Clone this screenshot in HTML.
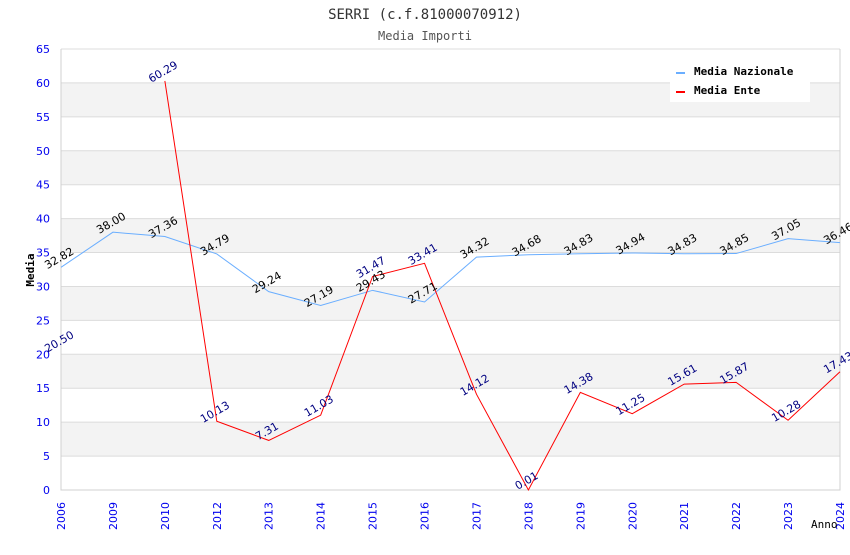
<!DOCTYPE html>
<html><head><meta charset="utf-8"><style>
body{margin:0;background:#fff;}
svg text{font-family:"DejaVu Sans","Liberation Sans",sans-serif;}
.mono{font-family:"DejaVu Sans Mono","Liberation Mono",monospace !important;}
</style></head><body>
<svg id="chart" width="850" height="550" xmlns="http://www.w3.org/2000/svg">
<text class="mono" x="425" y="19" text-anchor="middle" font-size="14" fill="#333">SERRI (c.f.81000070912)</text>
<text class="mono" x="425" y="40" text-anchor="middle" font-size="12" fill="#555">Media Importi</text>
<g id="bands"></g><g id="grid"></g><g id="axes"></g><g id="series"></g><g id="labels"></g>
<text class="mono" transform="translate(34,270) rotate(-90)" text-anchor="middle" font-size="11" font-weight="bold" fill="#000">Media</text>
<text class="mono" x="811" y="528" font-size="11" fill="#000">Anno</text>
<g>
<rect x="670" y="60" width="140" height="42" fill="#fff"/>
<rect x="676" y="72" width="9" height="2" fill="#6aaeff"/>
<text class="mono" x="694" y="75" font-size="11" font-weight="bold" fill="#000">Media Nazionale</text>
<rect x="676" y="91" width="9" height="2" fill="#ff0000"/>
<text class="mono" x="694" y="94" font-size="11" font-weight="bold" fill="#000">Media Ente</text>
</g>
</svg>
<script>
const categories=["2006","2009","2010","2012","2013","2014","2015","2016","2017","2018","2019","2020","2021","2022","2023","2024"];
const nazionale=[32.82,38.00,37.36,34.79,29.24,27.19,29.43,27.71,34.32,34.68,34.83,34.94,34.83,34.85,37.05,36.46];
const ente=[20.50,null,60.29,10.13,7.31,11.03,31.47,33.41,14.12,0.01,14.38,11.25,15.61,15.87,10.28,17.43];
const yTicks=[0,5,10,15,20,25,30,35,40,45,50,55,60,65];
const NS="http://www.w3.org/2000/svg";
const L=61,R=840,T=49,B=490,YMAX=65;
const x=i=>L+i*(R-L)/(categories.length-1);
const y=v=>B-v*(B-T)/YMAX;
function mk(tag,attrs,parent){const e=document.createElementNS(NS,tag);for(const k in attrs)e.setAttribute(k,attrs[k]);document.getElementById(parent).appendChild(e);return e;}
for(let i=0;i<yTicks.length-1;i++){
  if(i%2===1){const r=mk("rect",{x:L,y:y(yTicks[i+1]),width:R-L,height:y(yTicks[i])-y(yTicks[i+1]),fill:"#f3f3f3"},"bands");
  
  }
}
yTicks.forEach(t=>{
  const l=mk("line",{x1:L,x2:R,y1:y(t),y2:y(t),stroke:"#dcdcdc","stroke-width":1},"grid");
  
  
  const tx=mk("text",{x:L-11,y:y(t)+4,"text-anchor":"end","font-size":11,fill:"#0000ee"},"axes");
  tx.textContent=t;
  
  
});
const ax=mk("path",{d:`M${L},${T}V${B}H${R}V${T}`,fill:"none",stroke:"#d0d0d0"},"axes");


categories.forEach((c,i)=>{
  const tx=mk("text",{transform:`translate(${x(i)+4},${B+40}) rotate(-90)`,"font-size":11,fill:"#0000ee"},"axes");
  tx.textContent=c;
  
  
});
function series(vals,color,labColor,name){
  let d="",pen=false;
  vals.forEach((v,i)=>{if(v===null){pen=false;return;}d+=(pen?"L":"M")+x(i)+","+y(v);pen=true;});
  const p=mk("path",{d:d,fill:"none",stroke:color,"stroke-width":1},"series");
  
  
  vals.forEach((v,i)=>{if(v===null)return;
    const t=mk("text",{transform:`translate(${x(i)},${y(v)-6}) rotate(-30)`,"text-anchor":"middle","font-size":11,fill:labColor},"labels");
    t.textContent=v.toFixed(2);
    
    
  });
}
series(nazionale,"#6aaeff","#000","nazionale");
series(ente,"#ff0000","#000080","ente");
</script>
</body></html>
